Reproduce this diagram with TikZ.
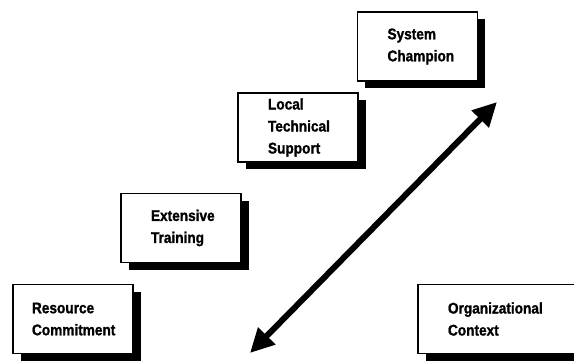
\documentclass[tikz,border=0pt]{standalone}
\usepackage{fontspec}
\setmainfont{Liberation Sans}[FakeStretch=0.88,BoldFeatures={FakeBold=1.2}]
\usetikzlibrary{arrows.meta,shadows}
\begin{document}
\begin{tikzpicture}[x=1pt,y=1pt]
        % Styles
        \tikzstyle{stage}=[draw,fill=white,line width=1.3pt,minimum width=120pt,minimum height=69pt,
            inner xsep=0pt,inner ysep=0pt,text width=60pt,align=left,
            font=\bfseries\fontsize{15.5}{22}\selectfont,
            drop shadow={shadow xshift=7.5pt,shadow yshift=-7.5pt,fill=black,opacity=1}]
        \tikzstyle{important line}=[line width=6pt,{Triangle[length=24pt,width=23pt]}-{Triangle[length=24pt,width=23pt]}]
        %The graphic
        \useasboundingbox (0,0) rectangle (574,361);
        %stages
        \node[stage,text width=82pt] (resource) at (73,42) {Resource\\Commitment};
        \node[stage] (training) at (181,133) {Extensive\\Training};
        \node[stage] (support) at (298,233.5) {Local\\Technical\\Support};
        \node[stage] (champion) at (417.5,314.5) {System\\Champion};
        \node[stage,minimum width=160pt,text width=100pt] (context) at (498,42) {Organizational\\Context};
        %arrow
        \coordinate (low end) at (250,8);
        \coordinate (high end) at (497,259);
        \draw[style=important line] (low end) -- (high end);
\end{tikzpicture}
\end{document}
